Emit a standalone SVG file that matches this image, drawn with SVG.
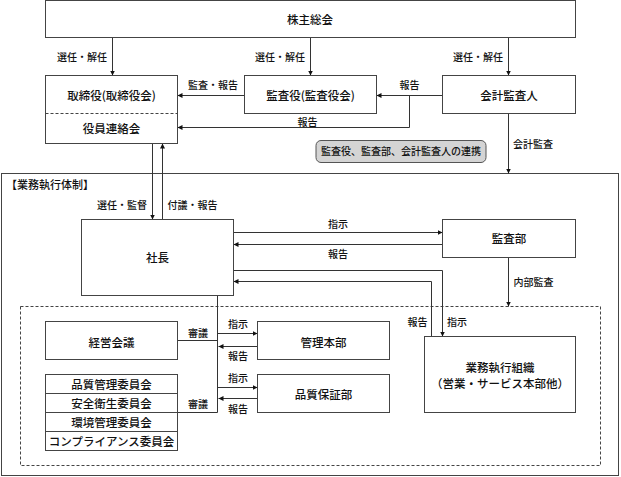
<svg xmlns="http://www.w3.org/2000/svg" width="621" height="477" viewBox="0 0 621 477">
<style>
text{font-family:"Noto Sans CJK JP","Noto Sans CJK SC",sans-serif;fill:#111;text-anchor:middle;font-weight:500}
.n{font-size:11.5px}
.l{font-size:10px}
.box{fill:#fff;stroke:#444;stroke-width:1}
.ln{fill:none;stroke:#333;stroke-width:1}
.ar{marker-end:url(#ah)}
</style>
<defs>
<marker id="ah" markerUnits="userSpaceOnUse" markerWidth="6" markerHeight="6" refX="5" refY="2.5" orient="auto">
<path d="M0,0 L5,2.5 L0,5 z" fill="#111"/>
</marker>
</defs>
<rect width="621" height="477" fill="#fff"/>
<g id="frame">
<rect x="1.5" y="173.5" width="617" height="302" fill="none" stroke="#444"/>
<text class="l" x="6" y="189" style="text-anchor:start;font-size:11px">【業務執行体制】</text>
<rect x="20.5" y="306.5" width="580" height="159" fill="none" stroke="#444" stroke-dasharray="3,2"/>
</g>
<g id="connectors">
<path class="ln ar" d="M112.5,37.5 V75.5"/>
<path class="ln ar" d="M310.5,37.5 V75.5"/>
<path class="ln ar" d="M508.5,37.5 V75.5"/>
<path class="ln ar" d="M244.5,95.5 H177.5"/>
<path class="ln ar" d="M442.5,95.5 H376.5"/>
<path class="ln ar" d="M409.5,95.5 V127.5 H177.5"/>
<path class="ln ar" d="M508.5,113.5 V173.5"/>
<path class="ln ar" d="M152.5,143.5 V219.5"/>
<path class="ln ar" d="M162.5,219.5 V143.5"/>
<path class="ln ar" d="M233.5,232.5 H442.5"/>
<path class="ln ar" d="M442.5,244.5 H233.5"/>
<path class="ln ar" d="M233.5,270.5 H442.5 V336.5"/>
<path class="ln ar" d="M431.5,336.5 V281.5 H233.5"/>
<path class="ln ar" d="M508.5,257.5 V306.5"/>
<path class="ln" d="M217.5,295.5 V412.5"/>
<path class="ln" d="M177.5,340.5 H217.5"/>
<path class="ln" d="M177.5,412.5 H217.5"/>
<path class="ln ar" d="M217.5,333.5 H257.5"/>
<path class="ln ar" d="M257.5,346.5 H218.5"/>
<path class="ln ar" d="M217.5,387.5 H257.5"/>
<path class="ln ar" d="M257.5,398.5 H218.5"/>
<text class="l" x="82" y="61">選任・解任</text>
<text class="l" x="280" y="61">選任・解任</text>
<text class="l" x="478" y="61">選任・解任</text>
<text class="l" x="213" y="89">監査・報告</text>
<text class="l" x="409.5" y="89">報告</text>
<text class="l" x="307.5" y="126">報告</text>
<text class="l" x="533" y="148">会計監査</text>
<text class="l" x="122" y="209">選任・監督</text>
<text class="l" x="192.5" y="209">付議・報告</text>
<text class="l" x="338" y="228">指示</text>
<text class="l" x="338" y="258">報告</text>
<text class="l" x="533.5" y="286">内部監査</text>
<text class="l" x="417.5" y="326">報告</text>
<text class="l" x="457" y="326">指示</text>
<text class="l" x="198" y="337">審議</text>
<text class="l" x="238" y="328">指示</text>
<text class="l" x="238" y="360">報告</text>
<text class="l" x="238" y="382">指示</text>
<text class="l" x="198" y="408">審議</text>
<text class="l" x="238" y="413">報告</text>
</g>
<g id="shareholders">
<rect class="box" x="45.5" y="0.5" width="530" height="37"/>
<text class="n" x="310" y="24">株主総会</text>
</g>
<g id="board">
<rect class="box" x="45.5" y="75.5" width="132" height="68"/>
<line x1="45.5" y1="113.5" x2="177.5" y2="113.5" stroke="#444" stroke-dasharray="3,2"/>
<text class="n" x="111.5" y="100">取締役(取締役会)</text>
<text class="n" x="111.5" y="132.5">役員連絡会</text>
</g>
<g id="auditors">
<rect class="box" x="244.5" y="75.5" width="132" height="38"/>
<text class="n" x="310.5" y="100">監査役(監査役会)</text>
</g>
<g id="accounting-auditor">
<rect class="box" x="442.5" y="75.5" width="133" height="38"/>
<text class="n" x="509" y="100">会計監査人</text>
</g>
<g id="cooperation">
<rect x="316" y="140.5" width="170" height="22" rx="5" fill="#d4d4d4" stroke="#555"/>
<text class="l" x="401" y="155">監査役、監査部、会計監査人の連携</text>
</g>
<g id="president">
<rect class="box" x="81.5" y="219.5" width="152" height="76"/>
<text class="n" x="157.5" y="261.5">社長</text>
</g>
<g id="audit-dept">
<rect class="box" x="442.5" y="219.5" width="133" height="38"/>
<text class="n" x="509" y="243">監査部</text>
</g>
<g id="management-meeting">
<rect class="box" x="45.5" y="321.5" width="132" height="38"/>
<text class="n" x="111.5" y="347">経営会議</text>
</g>
<g id="admin-hq">
<rect class="box" x="257.5" y="321.5" width="132" height="38"/>
<text class="n" x="323.5" y="347">管理本部</text>
</g>
<g id="qa-dept">
<rect class="box" x="257.5" y="374.5" width="132" height="38"/>
<text class="n" x="323.5" y="398.5">品質保証部</text>
</g>
<g id="operations">
<rect class="box" x="424.5" y="336.5" width="151" height="76"/>
<text class="n" x="500" y="371.5">業務執行組織</text>
<text class="n" x="500" y="387.5">（営業・サービス本部他）</text>
</g>
<g id="committees">
<rect class="box" x="45.5" y="374.5" width="132" height="76"/>
<line x1="45.5" y1="393.5" x2="177.5" y2="393.5" stroke="#444"/>
<line x1="45.5" y1="412.5" x2="177.5" y2="412.5" stroke="#444"/>
<line x1="45.5" y1="431.5" x2="177.5" y2="431.5" stroke="#444"/>
<text class="n" x="111.5" y="388.5">品質管理委員会</text>
<text class="n" x="111.5" y="407.5">安全衛生委員会</text>
<text class="n" x="111.5" y="426.5">環境管理委員会</text>
<text class="n" x="111.5" y="445.5">コンプライアンス委員会</text>
</g>
</svg>
